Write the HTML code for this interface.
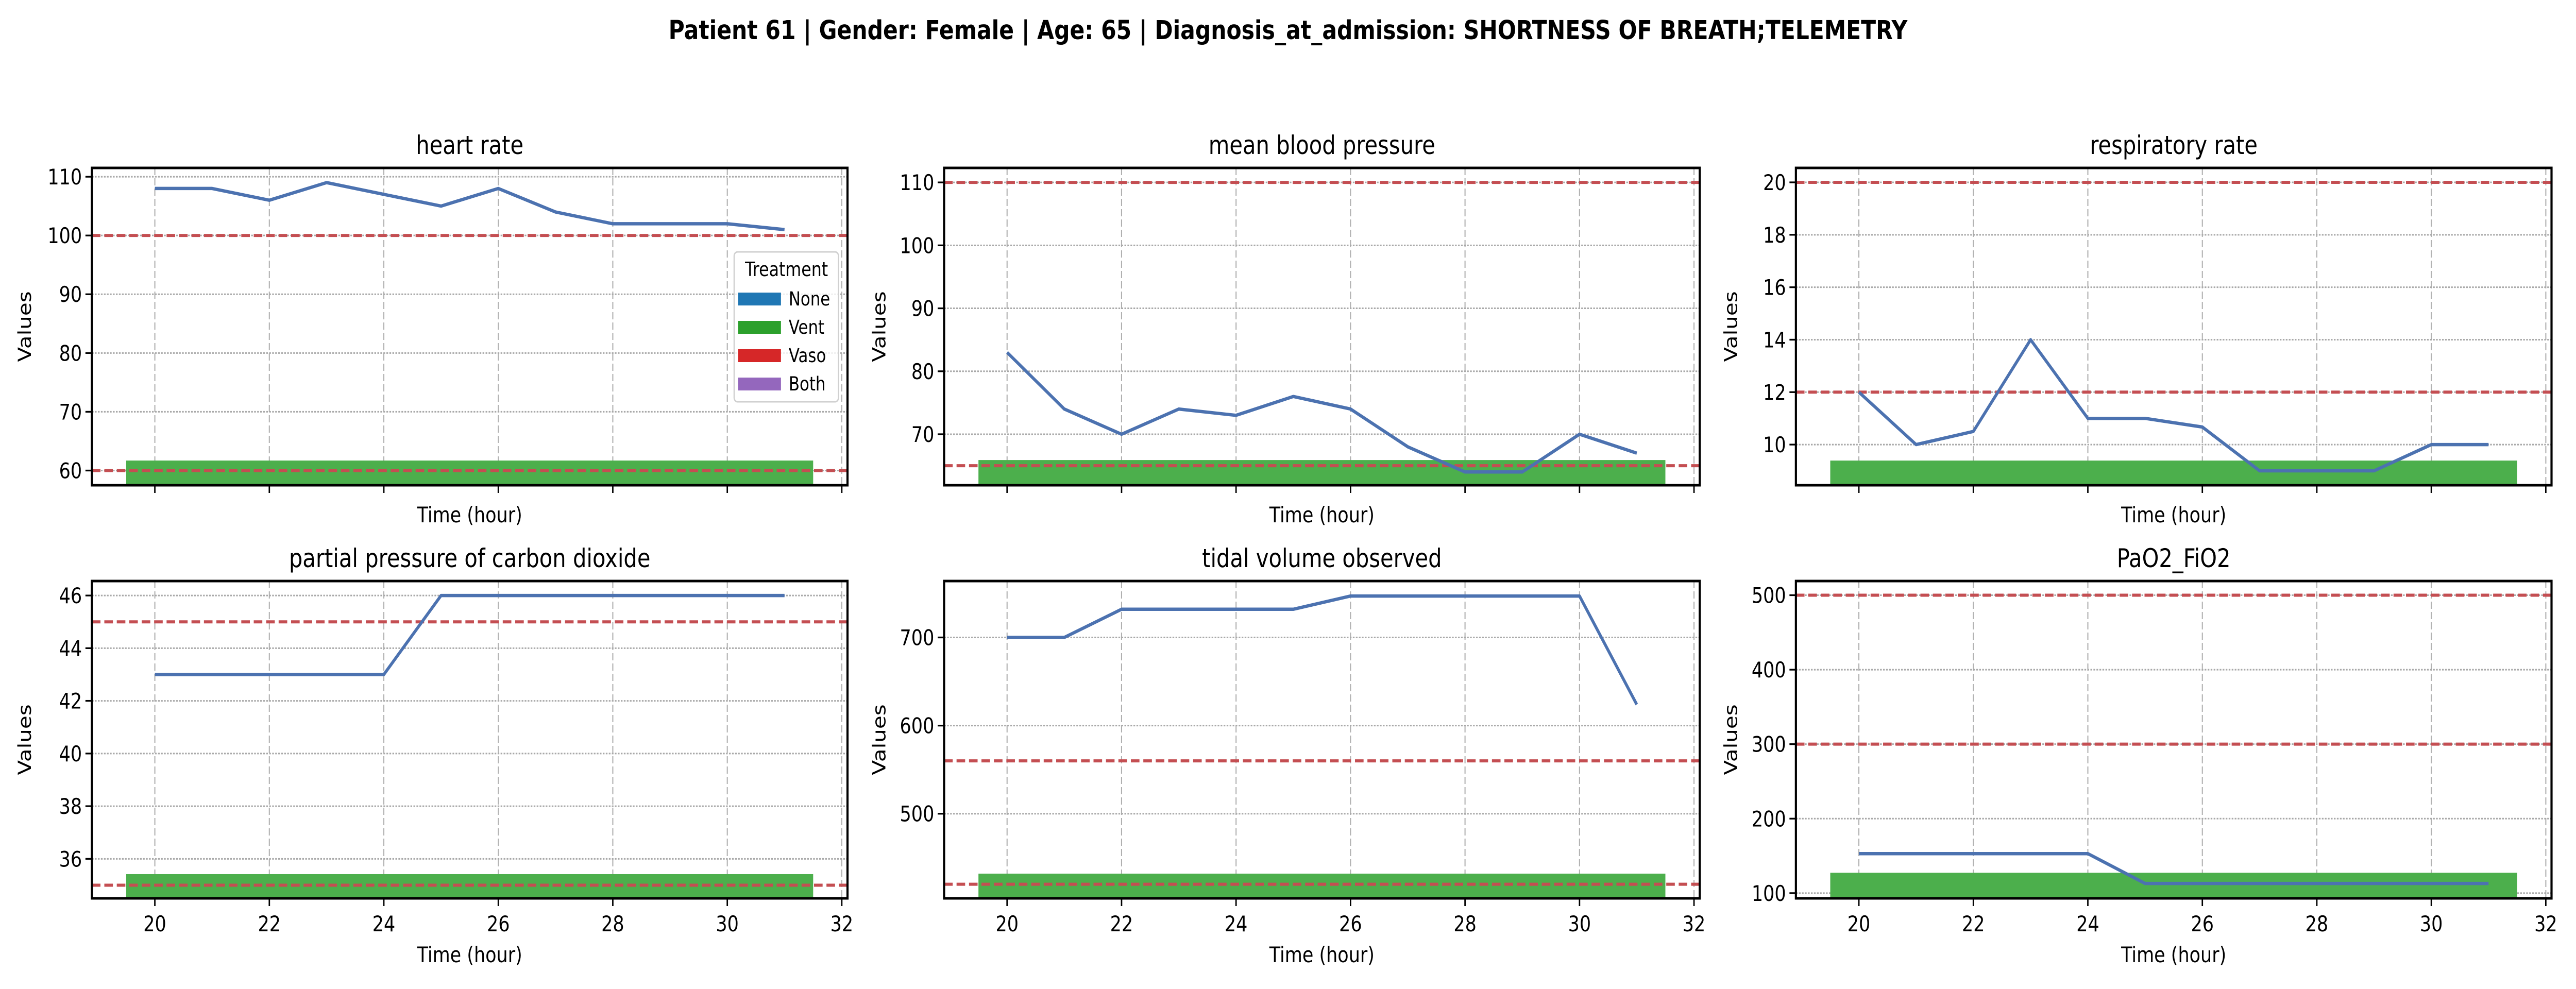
<!DOCTYPE html>
<html><head><meta charset="utf-8">
<style>
html,body{margin:0;padding:0;background:#fff;width:100%;height:100%;overflow:hidden;}
svg{display:block;width:100vw;height:100vh;font-family:"DejaVu Sans","Liberation Sans",sans-serif;}
</style></head>
<body>
<svg id="fig" viewBox="0 0 6000 1920" preserveAspectRatio="none" xmlns="http://www.w3.org/2000/svg">
<rect x="0" y="0" width="6000" height="1920" fill="#fff"/>
<text x="3000" y="76" text-anchor="middle" font-size="51" font-weight="bold">Patient 61 | Gender: Female | Age: 65 | Diagnosis_at_admission: SHORTNESS OF BREATH;TELEMETRY</text>
</svg>
<script>
const hours = [20,21,22,23,24,25,26,27,28,29,30,31];
const xTicks = [20,22,24,26,28,30,32];
const titles = ["heart rate","mean blood pressure","respiratory rate","partial pressure of carbon dioxide","tidal volume observed","PaO2_FiO2"];
const hrValues = [108,108,106,109,107,105,108,104,102,102,102,101];
const mbpValues = [83,74,70,74,73,76,74,68,64,64,70,67];
const rrValues = [12,10,10.5,14,11,11,10.67,9,9,9,10,10];
const pco2Values = [43,43,43,43,43,46,46,46,46,46,46,46];
const tidalValues = [700,700,732,732,732,732,747,747,747,747,747,624];
const pfValues = [153,153,153,153,153,113,113,113,113,113,113,113];
const seriesList = [hrValues,mbpValues,rrValues,pco2Values,tidalValues,pfValues];
const yMins = [57.5,61.9,8.45,34.5,404,93];
const yMaxs = [111.5,112.3,20.55,46.55,764,519];
const yTicks = [[60,70,80,90,100,110],[70,80,90,100,110],[10,12,14,16,18,20],[36,38,40,42,44,46],[500,600,700],[100,200,300,400,500]];
const thresholds = [[100,60],[110,65],[20,12],[45,35],[560,420],[500,300]];
const ventStart = [19.5,19.5,19.5,19.5,19.5,19.5];
const ventEnd = [31.5,31.5,31.5,31.5,31.5,31.5];
const ventTop = [61.7,65.9,9.39,35.42,432,127.3];
const legendLabels = ["None","Vent","Vaso","Both"];
const legendColors = ["#1f77b4","#2ca02c","#d62728","#9467bd"];

const NS = "http://www.w3.org/2000/svg";
const fig = document.getElementById('fig');
function mk(tag, attrs, parent){
  const e = document.createElementNS(NS, tag);
  for (const k in attrs) e.setAttribute(k, attrs[k]);
  (parent||fig).appendChild(e);
  return e;
}
const colLeft = [214,2199,4183];
const rowTop = [326,1128];
const AW = 1760, AH = 616;
const XMIN = 18.9, XMAX = 32.1;

for (let p=0;p<6;p++){
  const r = Math.floor(p/3), c = p%3;
  const L = colLeft[c], T = rowTop[r], R = L+AW, B = T+AH;
  const ymin = yMins[p], ymax = yMaxs[p];
  const xs = v => L + (v-XMIN)/(XMAX-XMIN)*AW;
  const ys = v => B - (v-ymin)/(ymax-ymin)*AH;
  const g = mk('g', {});
  
  
  const clipId = 'clip'+p;
  const cp = mk('clipPath', {id:clipId}, g);
  mk('rect', {x:L,y:T,width:AW,height:AH}, cp);
  const inner = mk('g', {'clip-path':'url(#'+clipId+')'}, g);
  xTicks.forEach(t=>{
    const gl = mk('line', {x1:xs(t),x2:xs(t),y1:T,y2:B,stroke:'#b0b0b0','stroke-width':2.5,'stroke-dasharray':'14 6'}, inner);
    
    
  });
  yTicks[p].forEach(t=>{
    const gl = mk('line', {x1:L,x2:R,y1:ys(t),y2:ys(t),stroke:'#a8a8a8','stroke-width':3,'stroke-dasharray':'4 3'}, inner);
    
    
  });
  const bar = mk('rect', {x:xs(ventStart[p]), y:ys(ventTop[p]), width:xs(ventEnd[p])-xs(ventStart[p]), height:B-ys(ventTop[p])+4, fill:'#4caf4c'}, inner);
  
  
  thresholds[p].forEach(t=>{
    const tl = mk('line', {x1:L,x2:R,y1:ys(t),y2:ys(t),stroke:'#c44e52','stroke-width':6,'stroke-dasharray':'20 9'}, inner);
    
    
  });
  const pts = hours.map((h,i)=>xs(h).toFixed(1)+','+ys(seriesList[p][i]).toFixed(1)).join(' ');
  const pl = mk('polyline', {points:pts, fill:'none', stroke:'#4c72b0','stroke-width':6.5,'stroke-linejoin':'round'}, inner);
  
  
  const sp = mk('rect', {x:L,y:T,width:AW,height:AH,fill:'none',stroke:'#000','stroke-width':5}, g);
  
  
  yTicks[p].forEach(t=>{
    mk('line', {x1:L-15,x2:L,y1:ys(t),y2:ys(t),stroke:'#000','stroke-width':3.3}, g);
    const tx = mk('text', {x:L-23,y:ys(t)+15,'text-anchor':'end','font-size':42}, g);
    tx.textContent = t;
    
    
  });
  xTicks.forEach(t=>{
    mk('line', {x1:xs(t),x2:xs(t),y1:B,y2:B+15,stroke:'#000','stroke-width':3.3}, g);
    if (r===1){
      const tx = mk('text', {x:xs(t),y:B+64,'text-anchor':'middle','font-size':42}, g);
      tx.textContent = t;
      
      
    }
  });
  const xl = mk('text', {x:L+AW/2, y:(r===0? B+72 : B+124), 'text-anchor':'middle','font-size':42}, g);
  xl.textContent = 'Time (hour)';
  
  
  const yl = mk('text', {x:0,y:0,'text-anchor':'middle','font-size':42,transform:'translate('+(L-(c===0?142:137))+','+(T+AH/2)+') rotate(-90)'}, g);
  yl.textContent = 'Values';
  
  
  const ti = mk('text', {x:L+AW/2, y:T-27,'text-anchor':'middle','font-size':50}, g);
  ti.textContent = titles[p];
  
  
}
const lg = mk('g', {});


mk('rect', {x:1710,y:489,width:243,height:291,rx:8,fill:'#fff','fill-opacity':0.8,stroke:'#d0d0d0','stroke-width':3}, lg);
const lt = mk('text', {x:1832,y:536,'text-anchor':'middle','font-size':38}, lg);
lt.textContent = 'Treatment';


legendLabels.forEach((lab,i)=>{
  const cy = 580 + i*55;
  const sw = mk('rect', {x:1719,y:cy-12,width:100,height:25,fill:legendColors[i]}, lg);
  
  
  const t = mk('text', {x:1837,y:cy+13,'font-size':37}, lg);
  t.textContent = lab;
  
  
});
</script>
</body></html>
